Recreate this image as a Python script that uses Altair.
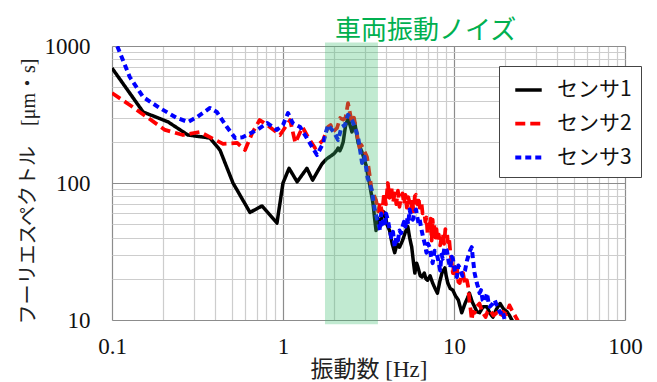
import altair as alt
import pandas as pd

# Fourier amplitude spectra of three sensors (frequency in Hz, amplitude in µm·s)
s1_freq = [0.1, 0.152, 0.213, 0.278, 0.374, 0.428, 0.51, 0.641, 0.754, 0.922, 1.0, 1.085,
           1.21, 1.38, 1.49, 1.69, 1.8, 1.94, 2.0, 2.07, 2.1, 2.15, 2.2, 2.25, 2.32, 2.4,
           2.53, 2.63, 2.75, 2.9, 3.08, 3.2, 3.36, 3.44, 3.5, 3.6, 3.7, 3.85, 3.95, 4.05,
           4.2, 4.35, 4.5, 4.65, 4.8, 5.0, 5.2, 5.37, 5.5, 5.66, 5.8, 5.9, 6.05, 6.17, 6.35,
           6.5, 6.7, 6.85, 7.0, 7.25, 7.5, 7.75, 8.0, 8.25, 8.5, 8.85, 9.0, 9.2, 9.5, 9.85,
           10.2, 10.6, 11.1, 11.6, 12.0, 12.3, 12.8, 13.2, 13.6, 14.1, 14.8, 15.6, 16.2,
           16.9, 17.7, 18.6, 19.5, 20.4, 21.1, 21.8, 22.5]
s1_amp = [690, 330, 279, 224, 213, 174, 100, 61, 68, 51, 100, 128,
          102, 128, 105, 138, 150, 160, 165, 174, 180, 172, 183, 200, 260, 298,
          236, 274, 196, 168, 131, 100, 71, 54, 45, 55, 48, 62, 60, 50,
          45, 36, 31, 36, 34, 38, 44, 48, 40, 34, 26, 22, 26, 24, 21,
          20.6, 22, 20, 19.5, 21, 18.6, 17, 15.7, 19, 22, 24, 21, 18.6, 17, 16.5,
          15, 14, 11.3, 13.2, 14.5, 15.7, 13.5, 12.5, 11.5, 11.3, 12.5, 12.5, 11.2,
          10.5, 12, 13.2, 12, 11.5, 10.8, 10, 9.5]

s2_freq = [0.1, 0.127, 0.16, 0.204, 0.26, 0.327, 0.374, 0.446, 0.54, 0.6, 0.66, 0.73,
           0.81, 0.96, 1.1, 1.18, 1.3, 1.4, 1.54, 1.72, 1.83, 1.9, 1.96, 2.07, 2.16, 2.25,
           2.32, 2.4, 2.47, 2.53, 2.6, 2.7, 2.8, 2.87, 3.0, 3.1, 3.2, 3.3, 3.5, 3.6, 3.7,
           3.8, 3.9, 4.0, 4.1, 4.2, 4.3, 4.4, 4.5, 4.6, 4.7, 4.8, 4.9, 5.0, 5.1, 5.2, 5.3,
           5.4, 5.5, 5.6, 5.7, 5.8, 5.9, 6.0, 6.1, 6.2, 6.3, 6.45, 6.55, 6.7, 6.8, 6.9,
           7.0, 7.1, 7.2, 7.3, 7.4, 7.5, 7.6, 7.7, 7.8, 7.9, 8.0, 8.15, 8.3, 8.45, 8.6,
           8.75, 8.9, 9.1, 9.2, 9.35, 9.5, 9.7, 9.85, 10.0, 10.2, 10.4, 10.6, 10.8, 11.0,
           11.3, 11.6, 11.9, 12.1, 12.3, 12.5, 12.7, 12.9, 13.2, 13.6, 14.1, 14.6, 15.3,
           15.7, 16.2, 17.0, 17.8, 18.5, 19.3, 20.2, 21.1, 21.8, 22.6, 23.5, 24.0]
s2_amp = [454, 371, 303, 244, 224, 236, 216, 193, 196, 174, 231, 288,
          265, 224, 288, 196, 256, 216, 180, 206, 256, 265, 236, 252, 298, 290,
          300, 383, 320, 274, 300, 232, 180, 190, 170, 155, 118, 89, 75, 62, 72,
          60, 85, 70, 100, 78, 95, 72, 84, 70, 88, 67, 80, 84, 70, 82, 66,
          79, 72, 64, 76, 62, 80, 82, 70, 79, 66, 72, 60, 61, 52, 56,
          43, 50, 45, 55, 38, 54, 44, 50, 40, 46, 38, 42, 35, 40, 43,
          36, 46, 44, 37, 40, 32, 26, 22, 26, 21, 24, 19, 18.6, 21,
          22, 18, 19.5, 17.5, 14, 12, 10, 11.5, 11.3, 12.5, 13.2, 11.5, 10.5,
          11.5, 11.9, 10.8, 11.3, 10.5, 11.5, 11, 12.8, 11.8, 10.9, 10, 9.5]

s3_freq = [0.1, 0.108, 0.127, 0.152, 0.19, 0.24, 0.278, 0.314, 0.374, 0.41, 0.47, 0.525,
           0.58, 0.705, 0.81, 0.92, 1.0, 1.07, 1.14, 1.26, 1.4, 1.58, 1.72, 1.83, 1.98,
           2.1, 2.2, 2.3, 2.4, 2.53, 2.63, 2.75, 2.9, 3.0, 3.12, 3.3, 3.44, 3.6, 3.7, 3.75,
           3.8, 3.9, 3.95, 4.0, 4.1, 4.2, 4.3, 4.4, 4.5, 4.6, 4.7, 4.8, 4.9, 5.0, 5.1, 5.2,
           5.3, 5.4, 5.5, 5.6, 5.75, 5.85, 6.0, 6.1, 6.2, 6.3, 6.45, 6.6, 6.75, 6.9, 7.05,
           7.2, 7.35, 7.5, 7.7, 7.9, 8.1, 8.3, 8.45, 8.6, 8.8, 9.1, 9.3, 9.5, 9.7, 9.85,
           10.1, 10.4, 10.6, 10.8, 11.2, 11.6, 11.9, 12.1, 12.4, 12.7, 12.9, 13.2, 13.6,
           13.9, 14.1, 14.4, 14.7, 15.1, 15.6, 15.9, 16.2, 16.7, 17.3, 17.9, 18.6, 19.2,
           19.8, 20.5]
s3_amp = [1150, 980, 594, 424, 353, 298, 279, 303, 353, 330, 256, 213,
          216, 244, 274, 244, 265, 324, 274, 256, 206, 160, 196, 265, 236,
          206, 256, 265, 314, 288, 256, 216, 140, 155, 110, 89, 64, 51, 45, 60,
          56, 50, 48, 60, 54, 46, 40, 44, 34, 40, 38, 45, 43, 48, 52, 48,
          56, 50, 64, 58, 54, 60, 64, 56, 51, 54, 46, 40, 36, 31, 36,
          34, 29, 26, 32, 31, 27, 23, 30, 28, 34, 32, 27, 24, 29, 28,
          23, 20.6, 25, 24, 21, 23, 27, 29, 32, 34, 28, 22, 18.6,
          17, 15.7, 16.5, 14, 13.5, 15.7, 13.5, 12.5, 13, 14, 12.5, 11.3, 11.8,
          10, 9.5]

sensor_names = ["センサ1", "センサ2", "センサ3"]
sensor_colors = ["#000000", "#ff0000", "#0000ff"]
sensor_dashes = [[1, 0], [10, 5], [6, 4]]
sensor_widths = [3.5, 4, 3]

# Frequency band attributed to vehicle vibration
band_lo = [1.76]
band_hi = [3.59]
band_label = "車両振動ノイズ"

x_ticks = [round(d * k, 6) for d in (0.1, 1, 10) for k in range(1, 10)] + [100]
y_ticks = [d * k for d in (10, 100) for k in range(1, 10)] + [1000]

frames = []
for name, f, a in zip(sensor_names, (s1_freq, s2_freq, s3_freq), (s1_amp, s2_amp, s3_amp)):
    frames.append(pd.DataFrame({"freq": f, "amp": a, "sensor": name}))
spectra = pd.DataFrame(pd.concat(frames, ignore_index=True))
band = pd.DataFrame({"lo": band_lo, "hi": band_hi, "ylo": [9.3], "yhi": [1060]})

decade_test = "abs(log(datum.value)/LN10 - round(log(datum.value)/LN10)) < 1e-6"
serif = "Liberation Serif, Noto Sans CJK JP"

x_scale = alt.Scale(type="log", domain=[0.1, 100], nice=False)
y_scale = alt.Scale(type="log", domain=[10, 1000], nice=False)

x_axis = alt.Axis(
    values=x_ticks, format="~g", labelExpr=f"{decade_test} ? datum.label : ''",
    title="振動数 [Hz]", titleFont=serif, titleFontSize=23, titleFontWeight="normal",
    titleColor="#222", titlePadding=0,
    labelFont="Liberation Serif", labelFontSize=23, labelColor="#111", labelPadding=15,
    labelFlush=False, labelOverlap=False,
    ticks=False, domain=False,
    gridColor={"condition": {"test": decade_test, "value": "#8c8c8c"}, "value": "#cdcdcd"},
    gridWidth=1.2,
)
y_axis = alt.Axis(
    values=y_ticks, format="~g", labelExpr=f"{decade_test} ? datum.label : ''",
    title="フーリエスペクトル\u3000[μm・s]", titleFont=serif, titleFontSize=20,
    titleFontWeight="normal", titleColor="#222", titlePadding=6, titleY=145,
    labelFont="Liberation Serif", labelFontSize=23, labelColor="#111", labelPadding=22,
    labelBaseline="middle", labelOverlap=False,
    ticks=False, domain=False,
    gridColor={"condition": {"test": decade_test, "value": "#8c8c8c"}, "value": "#cdcdcd"},
    gridWidth=1.2,
)

legend = alt.Legend(
    title=None, orient="none", legendX=387, legendY=20,
    symbolType="stroke", symbolSize=700, symbolStrokeWidth=4, symbolOffset=5,
    labelFont="Noto Sans CJK JP", labelFontSize=21, labelColor="#111", labelOffset=13,
    rowPadding=8, padding=9, strokeColor="#444", fillColor="white", cornerRadius=0,
)

lines = alt.Chart(spectra).mark_line(clip=True, strokeJoin="round").encode(
    x=alt.X("freq:Q", scale=x_scale, axis=x_axis),
    y=alt.Y("amp:Q", scale=y_scale, axis=y_axis),
    color=alt.Color("sensor:N", scale=alt.Scale(domain=sensor_names, range=sensor_colors),
                    legend=legend),
    strokeDash=alt.StrokeDash("sensor:N", scale=alt.Scale(domain=sensor_names, range=sensor_dashes),
                              legend=legend),
    strokeWidth=alt.StrokeWidth("sensor:N", scale=alt.Scale(domain=sensor_names, range=sensor_widths),
                                legend=None),
    detail="sensor:N",
)

band_rect = alt.Chart(band).mark_rect(clip=False, color="#3dbf70", opacity=0.32).encode(
    x="lo:Q", x2="hi:Q", y="ylo:Q", y2="yhi:Q",
)

chart = alt.layer(lines, band_rect).properties(
    width=513, height=274,
    title=alt.TitleParams(band_label, anchor="start", frame="group", dx=223, offset=-9,
                          font="Noto Sans CJK JP", fontSize=26, fontWeight="normal",
                          color="#00b050"),
    autosize=alt.AutoSizeParams(type="none"),
    padding={"left": 112, "top": 46, "right": 32, "bottom": 62},
).configure_view(stroke="#555", strokeWidth=1.5).configure(background="white")

chart.save("out.html", embed_options={"renderer": "svg", "actions": False})
